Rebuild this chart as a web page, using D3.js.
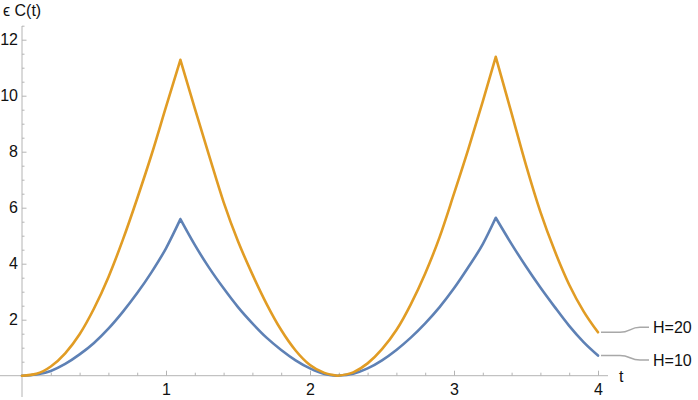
<!DOCTYPE html>
<html>
<head>
<meta charset="utf-8">
<script src="https://cdnjs.cloudflare.com/ajax/libs/d3/7.8.5/d3.min.js"></script>
<style>
    body { margin: 0; background: #fff; }
    text { font-family: "Liberation Sans", Arial, sans-serif; }
</style>
</head>
<body>
<div id="chart"></div>
<script>
// data
let tValues = [0, 0.1, 0.2, 0.3, 0.4, 0.5, 0.6, 0.7, 0.8, 0.9, 1.0, 1.1, 1.2, 1.3, 1.4, 1.5, 1.6, 1.7, 1.8, 1.9,
    2.0, 2.1, 2.19, 2.3, 2.4, 2.5, 2.6, 2.7, 2.8, 2.9, 3.0, 3.1, 3.2, 3.29, 3.4, 3.5, 3.6, 3.7, 3.8, 3.9, 4.0];
let h10 = [0, 0.04, 0.17, 0.42, 0.76, 1.17, 1.68, 2.28, 2.95, 3.70, 4.55, 5.59, 4.67, 3.85, 3.12, 2.45, 1.87, 1.35, 0.92, 0.55,
    0.26, 0.06, 0, 0.07, 0.26, 0.55, 0.92, 1.36, 1.87, 2.45, 3.12, 3.88, 4.70, 5.64, 4.70, 3.90, 3.15, 2.45, 1.78, 1.20, 0.72];
let h20 = [0, 0.07, 0.33, 0.80, 1.48, 2.40, 3.52, 4.85, 6.33, 7.90, 9.60, 11.28, 9.55, 7.85, 6.20, 4.80, 3.62, 2.55, 1.63, 0.90,
    0.38, 0.10, 0, 0.12, 0.44, 0.95, 1.63, 2.55, 3.65, 4.95, 6.50, 8.10, 9.80, 11.39, 9.37, 7.52, 5.85, 4.45, 3.25, 2.30, 1.55];
let seriesNames = ["H=10", "H=20"];
let xMajor = [1, 2, 3, 4];
let yMajor = [2, 4, 6, 8, 10, 12];

let colors = ["#5e81b5", "#e19c24"];
let width = 698, height = 400;

let svg = d3.select("#chart").append("svg")
    .attr("width", width)
    .attr("height", height);

// scales
let x = d3.scaleLinear().domain([0, 4]).range([22, 598]);
let y = d3.scaleLinear().domain([0, 12]).range([375.7, 39.7]);

let xMinor = d3.range(0.2, 4.01, 0.2).filter(function (d) { return Math.abs(d - Math.round(d)) > 0.01; });
let yMinor = d3.range(0.5, 12.6, 0.5).filter(function (d) { return d % 2 !== 0; });

let axisColor = "#b4b4b4";
let textColor = "#111";

// x axis
let gx = svg.append("g").attr("transform", "translate(0," + y(0) + ")");
gx.append("line")
    .attr("x1", 0).attr("x2", 608)
    .attr("stroke", axisColor).attr("stroke-width", 1);
gx.append("g")
    .call(d3.axisBottom(x).tickValues(xMinor).tickSize(-3).tickFormat(""));
gx.append("g")
    .call(d3.axisBottom(x).tickValues(xMajor).tickSize(-5).tickPadding(8).tickFormat(d3.format("d")));

// y axis
let gy = svg.append("g").attr("transform", "translate(" + x(0) + ",0)");
gy.append("line")
    .attr("y1", 26).attr("y2", 397)
    .attr("stroke", axisColor).attr("stroke-width", 1);
gy.append("g")
    .call(d3.axisLeft(y).tickValues(yMinor).tickSize(-2.5).tickFormat(""));
gy.append("g")
    .call(d3.axisLeft(y).tickValues(yMajor).tickSize(-4.5).tickPadding(4).tickFormat(d3.format("d")));

svg.selectAll(".domain").remove();
svg.selectAll(".tick line").attr("stroke", axisColor);
svg.selectAll(".tick text").style("font-size", "16px").attr("fill", textColor);

// axis labels
svg.append("text")
    .attr("x", 3).attr("y", 16)
    .style("font-size", "16px").attr("fill", textColor)
    .text("ϵ C(t)");
svg.append("text")
    .attr("x", 619).attr("y", 382)
    .style("font-size", "16px").attr("fill", textColor)
    .text("t");

// split a series into monotone pieces so the cusps stay sharp
function pieces(vals) {
    let out = [], start = 0;
    for (let i = 1; i < vals.length - 1; i++) {
        if ((vals[i] - vals[i - 1]) * (vals[i + 1] - vals[i]) < 0) {
            out.push(d3.range(start, i + 1));
            start = i;
        }
    }
    out.push(d3.range(start, vals.length));
    return out;
}

let line = d3.line()
    .x(function (d) { return x(d[0]); })
    .y(function (d) { return y(d[1]); })
    .curve(d3.curveMonotoneX);

[h10, h20].forEach(function (vals, k) {
    let path = pieces(vals).map(function (idx) {
        return line(idx.map(function (i) { return [tValues[i], vals[i]]; }));
    }).join("");
    svg.append("path")
        .attr("d", path)
        .attr("fill", "none")
        .attr("stroke", colors[k])
        .attr("stroke-width", 2.6)
        .attr("stroke-linejoin", "round")
        .attr("stroke-linecap", "round");
});

// labels with leader lines
let labelShift = [4.5, -5];
[h10, h20].forEach(function (vals, k) {
    let x0 = x(4) + 3, y0 = y(vals[vals.length - 1]);
    let y1 = y0 + labelShift[k];
    svg.append("path")
        .attr("d", "M" + x0 + "," + y0 + " L" + (x0 + 19) + "," + y0 +
            " C" + (x0 + 29) + "," + y0 + " " + (x0 + 29) + "," + y1 + " " + (x0 + 39) + "," + y1 +
            " L" + (x0 + 48) + "," + y1)
        .attr("fill", "none")
        .attr("stroke", "#a8a8a8")
        .attr("stroke-width", 1.5);
    svg.append("text")
        .attr("x", x0 + 52).attr("y", y1)
        .attr("dy", "0.35em")
        .style("font-size", "16px").attr("fill", textColor)
        .text(seriesNames[k]);
});
</script>
</body>
</html>
